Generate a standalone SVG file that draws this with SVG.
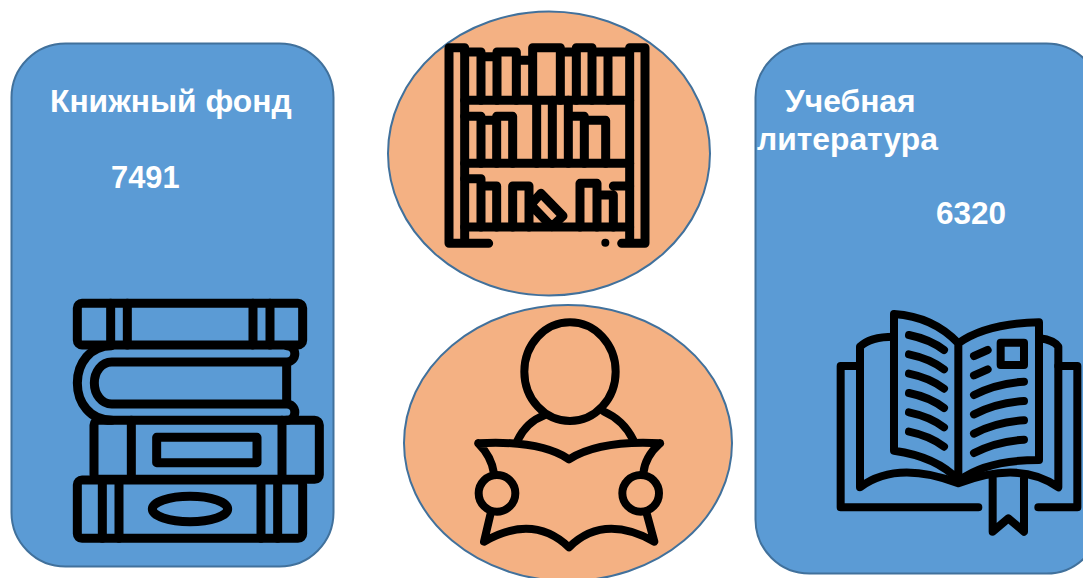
<svg xmlns="http://www.w3.org/2000/svg" width="1083" height="578" viewBox="0 0 1083 578">
<style>
.panel{fill:#5b9bd5;stroke:#41719c;stroke-width:2}
.disc{fill:#f4b183;stroke:#41719c;stroke-width:2}
.label{font-family:"Liberation Sans",Arial,sans-serif;font-weight:700;font-size:31.800px;fill:#fff}
.num{font-size:30.800px}
.icon{fill:none;stroke:#000;stroke-width:27;stroke-linecap:round;stroke-linejoin:round}
.thin{stroke-width:24}
</style>
<rect width="1083" height="578" fill="#fff"/>
<g id="book-stock">
<rect class="panel" x="11.500" y="43.500" width="322" height="523" rx="54"/>
<text class="label" x="50" y="112">Книжный фонд</text>
<text class="label num" x="111" y="188">7491</text>
<g class="icon" transform="translate(0 280) scale(.33333)">
<rect x="232" y="70" width="676" height="125" rx="14"/>
<path d="M332 70V195M382 70V195M759 70V195M810 70V195"/>
<path d="M335 197C270 197 232 250 232 309C232 368 270 421 335 421"/>
<path d="M860 246H335C305 246 283 275 283 309C283 343 305 372 335 372H860V246M860 197A24.500 24.500 0 0 1 860 246M860 372A24.500 24.500 0 0 1 860 421"/>
<rect x="282" y="421" width="676" height="177" rx="14"/>
<path d="M394 421V598M846 421V598"/>
<rect x="470" y="472" width="301" height="76"/>
<rect x="232" y="600" width="676" height="175" rx="14"/>
<path d="M307 600V775M357 600V775M783 600V775M833 600V775"/>
<ellipse cx="570" cy="687" rx="113" ry="38"/>
</g>
</g>
<g id="bookshelf">
<ellipse class="disc" cx="549" cy="153.500" rx="161" ry="142"/>
<g class="icon" transform="translate(380 0) scale(.33333)">
<path d="M254 730V143H207V730H326M725 730H795V143H749V730"/>
<path d="M254 301H749M254 490H749M254 681H749"/>
<path d="M254 156H303V301M303 170H351V301M351 156H409V301M409 181H458M458 301V143H541V301M541 156H589M589 301V143H636V301M636 156H749M684 156V301"/>
<path d="M254 349H303V490M303 361H350V490M350 349H398V490M470 301V490M517 301V490M565 301V490M565 349H613V490M613 361H677V490"/>
<path d="M254 536H303V681M303 558H350V681M398 681V558H447V681M447 620L483 580L549 648L515 680L452 614M600 681V550H651V681M651 585H700V681M700 558H749"/>
<circle cx="676" cy="728" r="12" fill="#000" stroke="none"/>
</g>
</g>
<g id="reader">
<ellipse class="disc" cx="568" cy="443" rx="164" ry="138"/>
<g class="icon thin" transform="translate(400 300) scale(.33333)">
<ellipse cx="510" cy="215" rx="137" ry="148"/>
<path d="M352 422Q380 365 435 345M612 335Q670 360 700 420"/>
<path d="M235 430Q420 420 507 478Q600 420 780 430M235 430Q275 470 282 520M272 640L252 725Q400 640 507 742Q610 640 763 725L740 640M730 520Q735 470 780 430"/>
<circle cx="291" cy="580" r="55"/>
<circle cx="722" cy="580" r="55"/>
</g>
</g>
<g id="textbooks">
<rect class="panel" x="755.500" y="43.500" width="345" height="530" rx="54"/>
<text class="label" x="785" y="112">Учебная</text>
<text class="label" x="757" y="150">литература</text>
<text class="label" x="936" y="224" style="font-size:31.500px">6320</text>
<g class="icon thin" transform="translate(820 300) scale(.33333)">
<path d="M415 130Q340 50 222 42V452Q350 470 415 540M415 130Q500 70 657 67V480Q500 480 420 540M415 130V545"/>
<path d="M222 110Q150 110 120 140V562Q230 480 415 550Q600 480 715 562V140Q700 120 660 115"/>
<path d="M120 198H62V622H475M655 622H772V198H715"/>
<path d="M518 535V695L565 655L612 695V535"/>
<path d="M267 105Q330 118 372 150M267 163Q330 176 372 208M267 221Q330 234 372 266M267 279Q330 292 372 324M267 337Q330 350 372 382M267 395Q330 408 372 440"/>
<path d="M462 285Q530 250 612 245M462 343Q530 308 612 303M462 401Q530 366 612 361M462 459Q530 424 612 419M462 168L503 150M462 226L503 208"/>
<rect x="542" y="128" width="70" height="67"/>
</g>
</g>
</svg>
